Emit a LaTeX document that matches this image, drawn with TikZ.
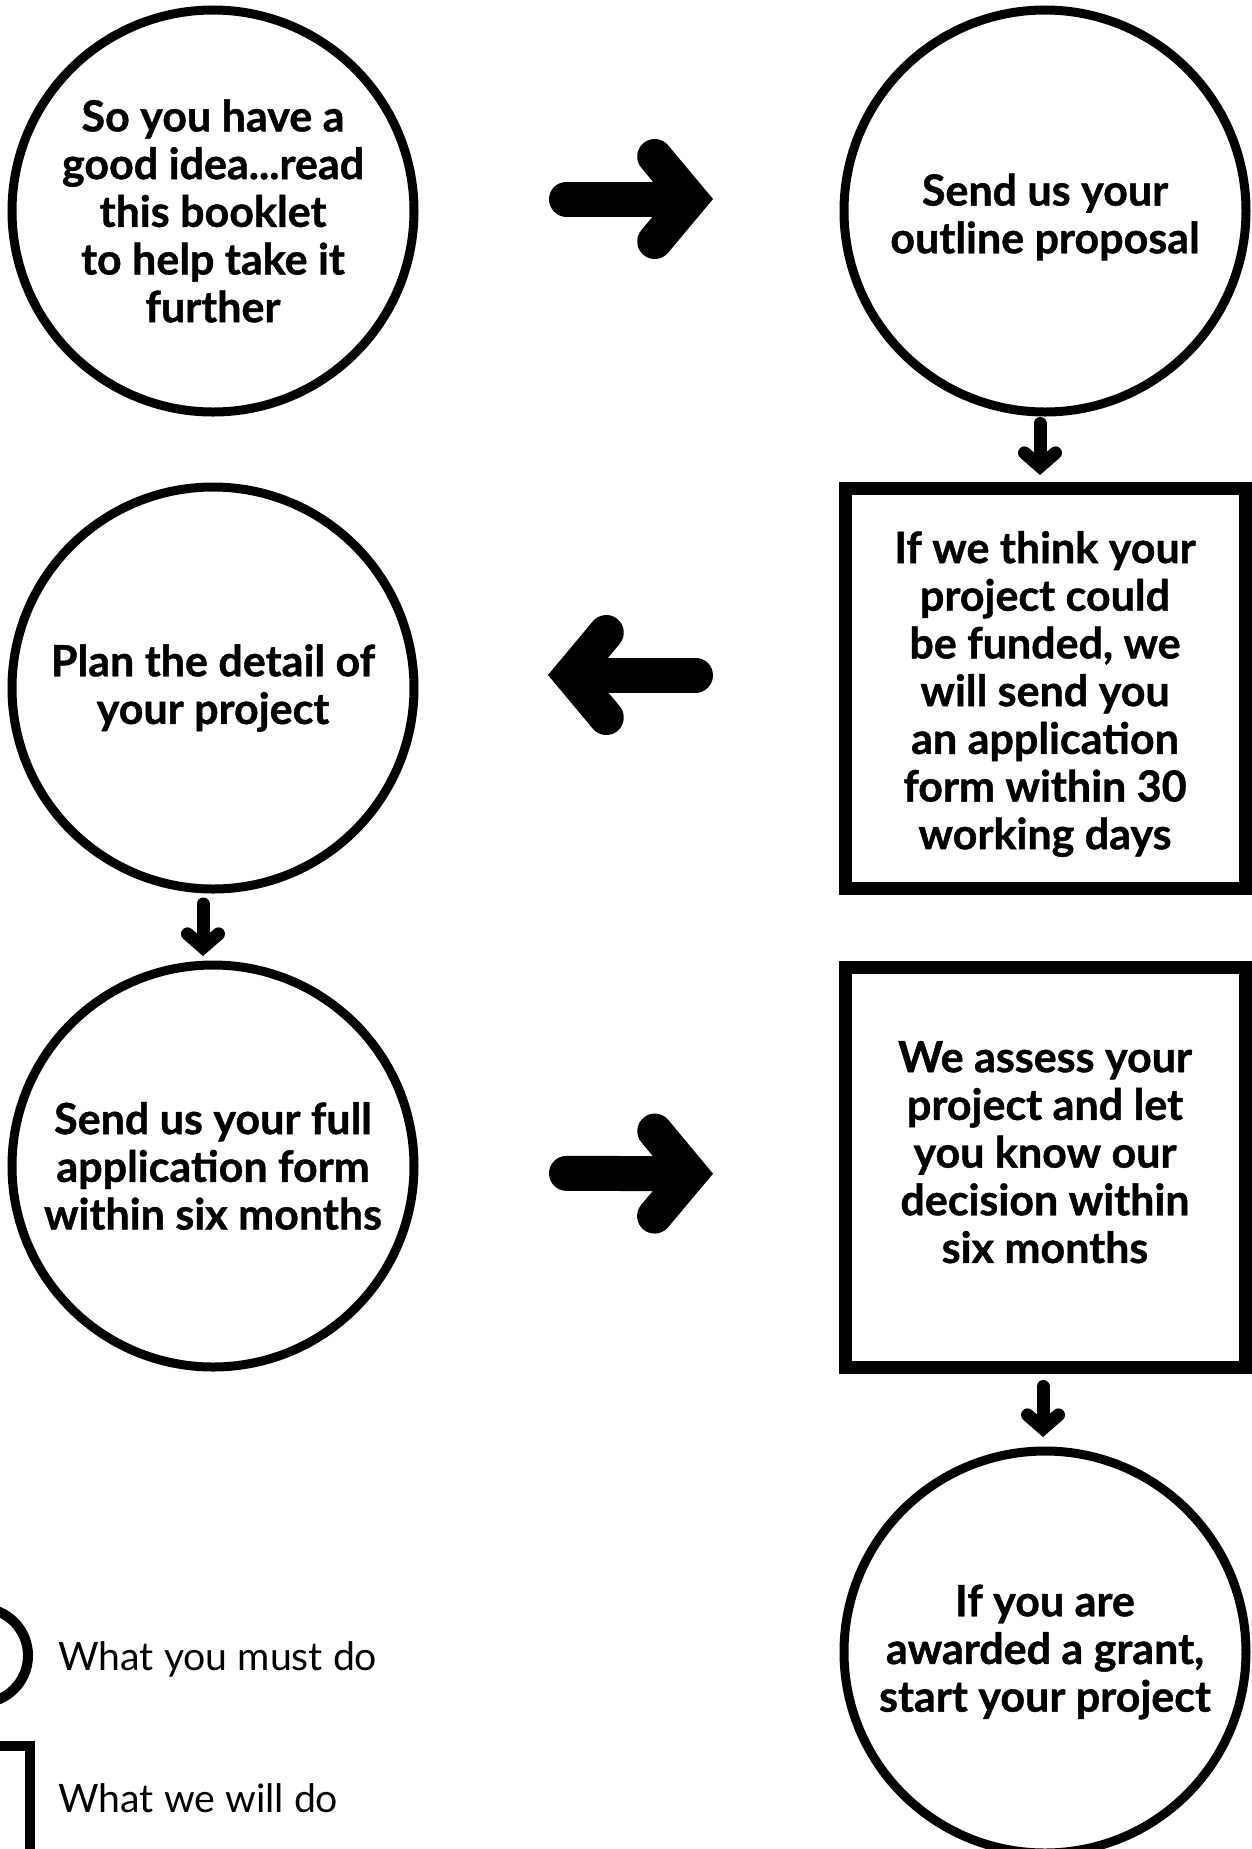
\documentclass[tikz,border=0pt]{standalone}
\usepackage{fontspec}
\setmainfont{Lato}[BoldFeatures={FakeBold=1}]
\usetikzlibrary{arrows.meta}

\begin{document}
\begin{tikzpicture}[x=0.5pt, y=-0.5pt,
	must/.style = {circle, draw, line width=4.5pt, minimum size=201pt, inner sep=0pt, align=center, font=\bfseries\fontsize{21.5}{23.85}\selectfont},
	will/.style = {rectangle, draw, line width=6.5pt, minimum size=200pt, inner sep=0pt, align=center, font=\bfseries\fontsize{21.5}{23.85}\selectfont},
	bigarrow/.style = {line width=17.5pt, line cap=round, -{Straight Barb[length=17.75pt, width=42.5pt, line cap=round, line join=miter]}},
	smallarrow/.style = {line width=6.5pt, line cap=round, -{Straight Barb[length=6.75pt, width=15.5pt, line cap=round, line join=miter]}},
	keytext/.style = {anchor=base west, inner sep=0pt, font=\fontsize{19.6}{22}\selectfont}]
	\useasboundingbox (0,0) rectangle (1252,1849);
	\node[must] (idea) at (213,211) {So you have a\\good idea...read\\this booklet\\to help take it\\further};
	\node[must] (outline) at (1045,211) {\rule{0pt}{22pt}Send us your\\outline proposal};
	\node[will] (think) at (1045,688) {\rule{0pt}{22pt}If we think your\\project could\\be funded, we\\will send you\\an application\\form within 30\\working days};
	\node[must] (plan) at (213,688) {Plan the detail of\\your project};
	\node[must] (full) at (213,1166) {Send us your full\\application form\\within six months};
	\node[will] (assess) at (1045,1167) {We assess your\\project and let\\you know our\\decision within\\six months\rule[-15pt]{0pt}{0pt}};
	\node[must] (grant) at (1045,1652) {If you are\\awarded a grant,\\start your project};
	\draw[bigarrow, shorten <=74pt, shorten >=63.25pt] ([yshift=6pt]idea.east) -- ([yshift=6pt]outline.west);
	\draw[smallarrow, shorten <=3.5pt, shorten >=3.25pt] ([xshift=-2.5pt]outline.south) -- ([xshift=-2.5pt]think.north);
	\draw[bigarrow, shorten <=71.5pt, shorten >=64.75pt] ([yshift=6.5pt]think.west) -- ([yshift=6.5pt]plan.east);
	\draw[smallarrow, shorten <=5.25pt, shorten >=2.25pt] ([xshift=-5pt]plan.south) -- ([xshift=-5pt]full.north);
	\draw[bigarrow, shorten <=74pt, shorten >=62.75pt] ([yshift=-3.5pt]full.east) -- ([yshift=-3.5pt]assess.west);
	\draw[smallarrow, shorten <=6.5pt, shorten >=4.75pt] ([xshift=-1pt]assess.south) -- ([xshift=-1pt]grant.north);
	\node[circle, draw, line width=5pt, minimum size=47.5pt, inner sep=0pt] (mustkey) at (-19.5,1655.5) {};
	\node[rectangle, draw, line width=5pt, minimum size=55pt, inner sep=0pt] (willkey) at (-25.5,1801) {};
	\node[keytext] (mustlabel) at (58,1670) {What you must do};
	\node[keytext] (willlabel) at (58,1812) {What we will do};
\end{tikzpicture}
\end{document}
